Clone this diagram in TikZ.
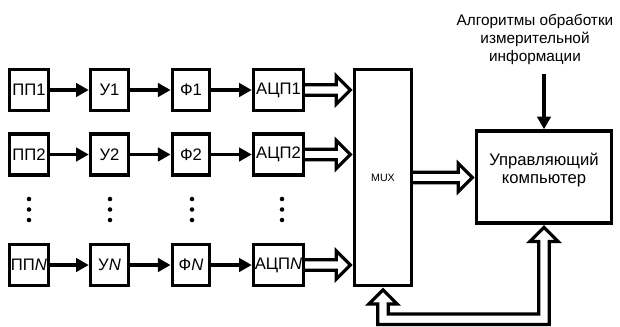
\documentclass[tikz,border=0pt]{standalone}
\usepackage{fontspec}
\setmainfont{Liberation Sans}
\usetikzlibrary{arrows.meta,calc}
\def\hs{4pt}
\def\hh{10.5pt}
\def\hl{10.5pt}
\newcommand\holH[2]{\draw[hol] let \p1=(#1),\p2=(#2) in
  (\x1,\y1+\hs) -- (\x2-2pt-\hl,\y1+\hs) -- (\x2-2pt-\hl,\y1+\hh) -- (\x2-2pt,\y1)
  -- (\x2-2pt-\hl,\y1-\hh) -- (\x2-2pt-\hl,\y1-\hs) -- (\x1,\y1-\hs);}
\begin{document}
\begin{tikzpicture}[x=0.75pt,y=-0.75pt,
  blk/.style={draw,line width=2.6pt,minimum height=31pt,inner sep=0pt,font=\fontsize{12.5}{14}\selectfont},
  arr/.style={line width=2.4pt,-{Triangle[length=9.5pt,width=10pt]}},
  hol/.style={line width=2.4pt,line join=miter},
  lbl/.style={align=center,font=\fontsize{11.5}{13.5}\selectfont}]
\useasboundingbox (0,0) rectangle (620,326);
% row 1
\node[blk,minimum width=29pt] (pp1) at (29,90) {ПП1};
\node[blk,minimum width=28.5pt] (u1) at (109.5,90) {У1};
\node[blk,minimum width=28pt] (f1) at (191,90) {Ф1};
\node[blk,minimum width=37.5pt] (adc1) at (278.5,90) {АЦП1};
% row 2
\node[blk,minimum width=29pt] (pp2) at (29,154.5) {ПП2};
\node[blk,minimum width=28.5pt] (u2) at (109.5,154.5) {У2};
\node[blk,minimum width=28pt] (f2) at (191,154.5) {Ф2};
\node[blk,minimum width=37.5pt] (adc2) at (278.5,154.5) {АЦП2};
% row N
\node[blk,minimum width=29pt] (ppn) at (29,265) {ПП\textit{N}};
\node[blk,minimum width=28.5pt] (un) at (109.5,265) {У\textit{N}};
\node[blk,minimum width=28pt] (fn) at (191,265) {Ф\textit{N}};
\node[blk,minimum width=37.5pt] (adcn) at (278.5,265) {АЦП\textit{N}};
% MUX and computer
\node[draw,line width=2.6pt,minimum width=42.5pt,minimum height=162pt,inner sep=0pt,
  font=\fontsize{8}{8}\selectfont] (mux) at (383,177.5) {MUX};
\node[draw,line width=2.6pt,minimum width=101pt,minimum height=69pt,inner sep=0pt] (comp) at (544,177) {};
\node[align=center,font=\fontsize{12.5}{13.5}\selectfont] (comptext) at (544,170.5) {Управляющий\\компьютер};
\node[lbl] (alg) at (535,39) {Алгоритмы обработки\\измерительной\\информации};
\coordinate (a0) at ($(comp.north)+(0,-55)$);
% arrows
\foreach \a/\b in {pp1/u1,u1/f1,f1/adc1,pp2/u2,u2/f2,f2/adc2,ppn/un,un/fn,fn/adcn}
  \draw[arr] (\a) -- (\b);
\draw[arr] (a0) -- (comp.north);
% dots
\foreach \x in {29,110,192,282}
  \foreach \y in {199,209.5,220}
    \fill (\x,\y) circle (1.7pt);
% hollow bus arrows
\holH{adc1.east}{adc1.east -| mux.west}
\holH{adc2.east}{adc2.east -| mux.west}
\holH{adcn.east}{adcn.east -| mux.west}
\holH{mux.east}{comp.west}
\draw[hol] let \p1=(mux.south), \p2=(comp.south), \p3=($(mux.south)+(0,32)$) in
  (\x1,\y1-2pt) -- (\x1-\hh,\y1-2pt-\hl) -- (\x1-\hs,\y1-2pt-\hl) -- (\x1-\hs,\y3-\hs)
  -- (\x2+\hs,\y3-\hs) -- (\x2+\hs,\y2-2pt-\hl) -- (\x2+\hh,\y2-2pt-\hl) -- (\x2,\y2-2pt)
  -- (\x2-\hh,\y2-2pt-\hl) -- (\x2-\hs,\y2-2pt-\hl) -- (\x2-\hs,\y3+\hs)
  -- (\x1+\hs,\y3+\hs) -- (\x1+\hs,\y1-2pt-\hl) -- (\x1+\hh,\y1-2pt-\hl) -- cycle;
\end{tikzpicture}
\end{document}
